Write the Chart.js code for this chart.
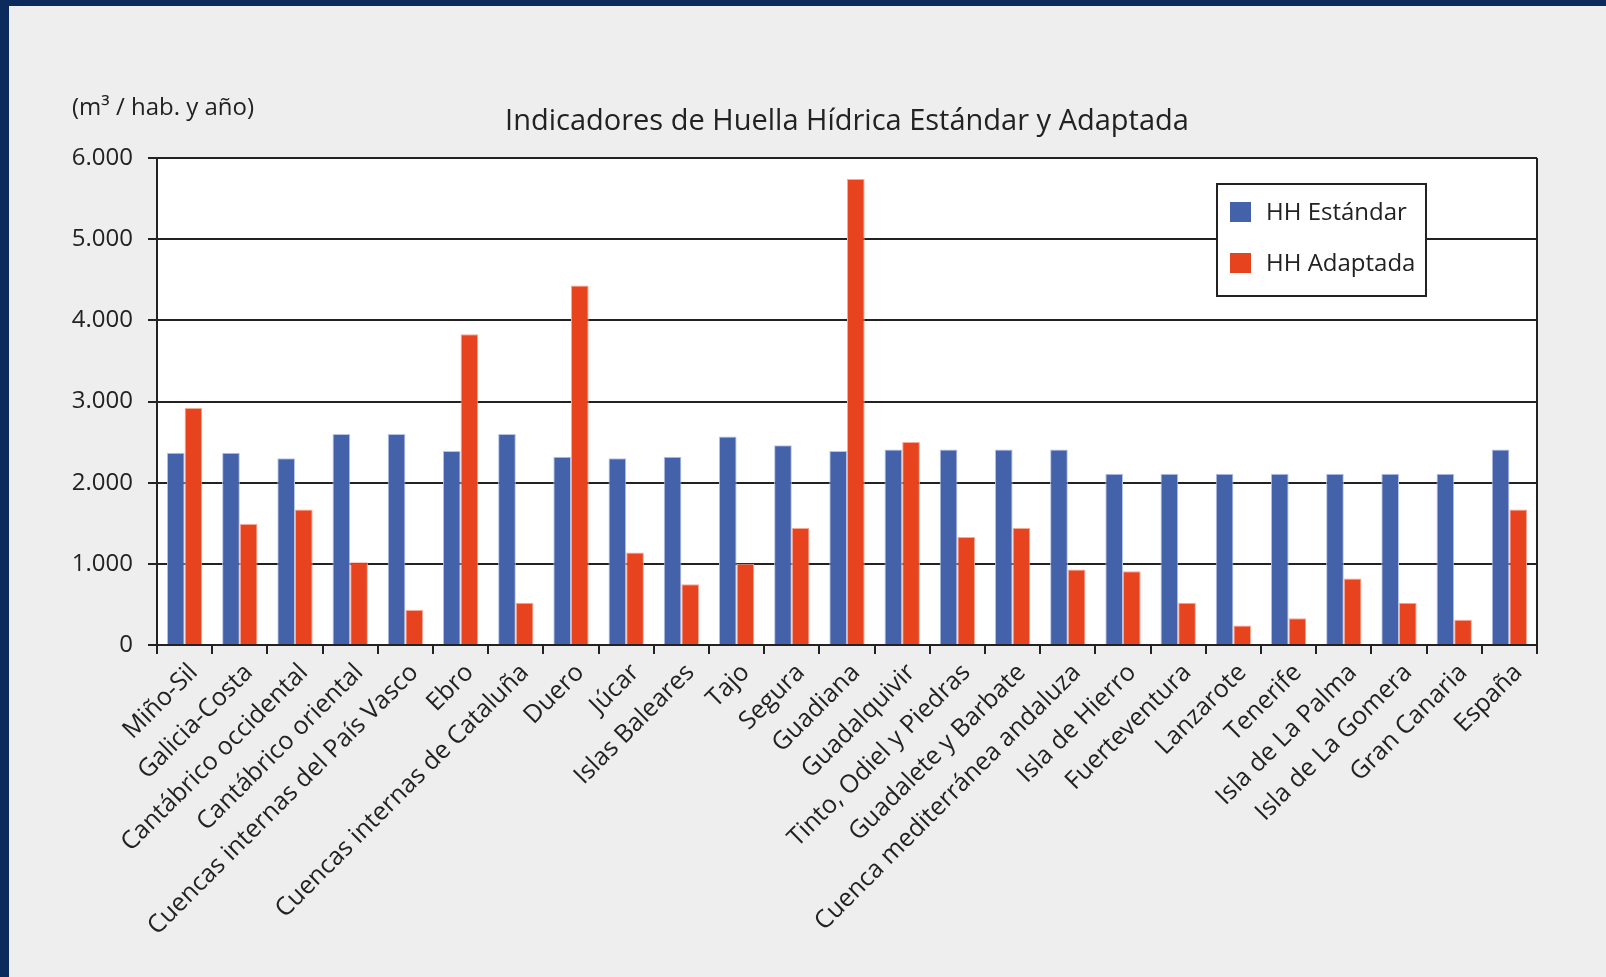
<!DOCTYPE html>
<html>
<head>
<meta charset="utf-8">
<script src="https://cdn.jsdelivr.net/npm/chart.js@4/dist/chart.umd.min.js"></script>
<style>
  html, body { margin:0; padding:0; background:#0b2b5c; width:1606px; height:977px; overflow:hidden; }
  #panel { position:absolute; left:9px; top:6px; width:1597px; height:971px; background:#eeeeee; }
</style>
</head>
<body>
<div id="panel"><canvas id="chart" width="1597" height="971"></canvas></div>
<script>
// -------------------- datos
var categories = ['Miño-Sil','Galicia-Costa','Cantábrico occidental','Cantábrico oriental','Cuencas internas del País Vasco','Ebro','Cuencas internas de Cataluña','Duero','Júcar','Islas Baleares','Tajo','Segura','Guadiana','Guadalquivir','Tinto, Odiel y Piedras','Guadalete y Barbate','Cuenca mediterránea andaluza','Isla de Hierro','Fuerteventura','Lanzarote','Tenerife','Isla de La Palma','Isla de La Gomera','Gran Canaria','España'];
var hhEstandar = [2370,2370,2300,2600,2600,2390,2600,2320,2300,2320,2570,2460,2390,2410,2410,2410,2410,2110,2110,2110,2110,2110,2110,2110,2410];
var hhAdaptada = [2920,1490,1670,1020,430,3830,520,4430,1140,750,1000,1440,5740,2500,1330,1440,930,910,520,240,330,820,520,310,1670];
var seriesLabels = ['HH Estándar','HH Adaptada'];
var yMin = 0, yMax = 6000, yStep = 1000;
var chartTitle = 'Indicadores de Huella Hídrica Estándar y Adaptada';
var unitLabel = '(m³ / hab. y año)';

var FONT = '"Open Sans", "DejaVu Sans", sans-serif';
var TXT = '#222222';
var blue = '#4462aa', red = '#e8431f';

function fmt(v){
	return String(v).replace(/\B(?=(\d{3})+(?!\d))/g, '.');
}

// fondo blanco del area, marco, titulo y leyenda
var decor = {
	id: 'decor',
	beforeDraw: function(chart){
		var a = chart.chartArea, ctx = chart.ctx;
		ctx.save();
		ctx.fillStyle = '#ffffff';
		ctx.fillRect(a.left, a.top, a.right - a.left, a.bottom - a.top);
		ctx.restore();
	},
	afterDraw: function(chart){
		var a = chart.chartArea, ctx = chart.ctx;
		ctx.save();
		// marco derecho
		ctx.strokeStyle = '#222';
		ctx.lineWidth = 2;
		ctx.beginPath();
		ctx.moveTo(a.right, a.top);
		ctx.lineTo(a.right, a.bottom + 9);
		ctx.stroke();

		// titulo
		ctx.fillStyle = TXT;
		ctx.font = '29px ' + FONT;
		ctx.textAlign = 'center';
		ctx.textBaseline = 'middle';
		ctx.fillText(chartTitle, (a.left + a.right) / 2, 116);

		// unidades
		ctx.font = '24px ' + FONT;
		ctx.textAlign = 'left';
		ctx.fillText(unitLabel, 63, 102);

		// leyenda
		var lx = 1208, ly = 178, lw = 209, lh = 112;
		ctx.fillStyle = '#ffffff';
		ctx.fillRect(lx, ly, lw, lh);
		ctx.strokeStyle = '#222';
		ctx.lineWidth = 2;
		ctx.strokeRect(lx, ly, lw, lh);
		var ds = chart.data.datasets;
		for(var i = 0; i < ds.length; i++){
			var cy = ly + 28 + i * 51;
			ctx.fillStyle = ds[i].backgroundColor;
			ctx.fillRect(lx + 13, cy - 10, 21, 20);
			ctx.fillStyle = TXT;
			ctx.font = '24px ' + FONT;
			ctx.textBaseline = 'middle';
			ctx.fillText(ds[i].label, lx + 49, cy + 1);
		}
		ctx.restore();
	}
};

var ctx = document.getElementById('chart').getContext('2d');
window.chart = new Chart(ctx, {
	type: 'bar',
	data: {
		labels: categories,
		datasets: [
			{ label: seriesLabels[0], data: hhEstandar, backgroundColor: blue, borderColor: '#b7c4e6', borderWidth: 1, categoryPercentage: 0.64, barPercentage: 1.0 },
			{ label: seriesLabels[1], data: hhAdaptada, backgroundColor: red, borderColor: '#f6a995', borderWidth: 1, categoryPercentage: 0.64, barPercentage: 1.0 }
		]
	},
	options: {
		responsive: false,
		animation: false,
		layout: { padding: { top: 152, right: 69, left: 0, bottom: 0 } },
		plugins: {
			legend: { display: false },
			title: { display: false },
			tooltip: { enabled: false }
		},
		scales: {
			x: {
				grid: { offset: true, drawOnChartArea: false, drawTicks: true, tickLength: 9, color: '#222', lineWidth: 2 },
				border: { color: '#222', width: 2 },
				ticks: { color: TXT, font: { family: FONT, size: 25 }, maxRotation: 45, minRotation: 45, autoSkip: false, padding: 4, labelOffset: 9 },
				afterFit: function(s){ s.height = 332; }
			},
			y: {
				min: yMin, max: yMax,
				grid: { color: '#222', lineWidth: 2, drawTicks: true, tickLength: 9 },
				border: { color: '#222', width: 2 },
				ticks: { stepSize: yStep, color: TXT, font: { family: FONT, size: 24 }, padding: 15, callback: function(v){ return fmt(v); } },
				afterFit: function(s){ s.width = 148; }
			}
		}
	},
	plugins: [decor]
});
</script>
</body>
</html>
